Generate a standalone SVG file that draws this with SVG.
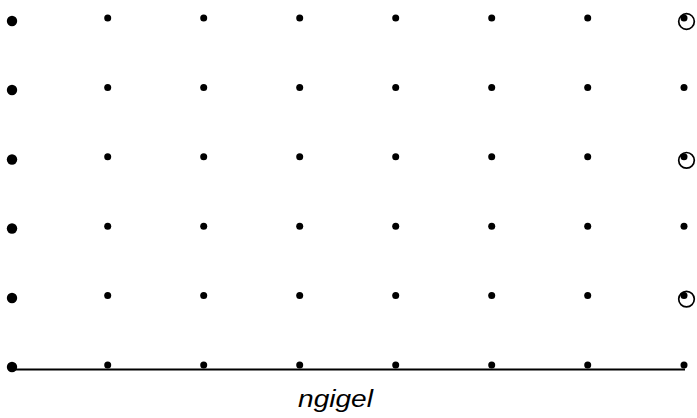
<svg xmlns="http://www.w3.org/2000/svg" width="697" height="418" viewBox="0 0 697 418">
<defs>
<style>
.d{fill:#000}
.big{fill:#000}
.ring{fill:none;stroke:#000;stroke-width:1.7}
.axis{stroke:#000;stroke-width:2;fill:none}
.lbl{font-family:"Liberation Sans",Arial,sans-serif;font-style:italic;font-size:23px;fill:#000}
</style>
<circle id="dot" class="d" r="3.5"/>
<circle id="bigdot" class="big" r="5.2"/>
</defs>
<rect width="697" height="418" fill="#fff"/>
<g id="connectors">
<path class="axis" d="M12 369.5 H685"/>
</g>
<g id="col0">
<use href="#bigdot" x="12" y="21"/>
<use href="#bigdot" x="12" y="90"/>
<use href="#bigdot" x="12" y="159.5"/>
<use href="#bigdot" x="12" y="228.5"/>
<use href="#bigdot" x="12" y="298"/>
<use href="#bigdot" x="12" y="367"/>
</g>
<g id="grid">
<g id="row0">
<use href="#dot" x="107.7" y="18"/><use href="#dot" x="203.7" y="18"/><use href="#dot" x="299.7" y="18"/><use href="#dot" x="395.7" y="18"/><use href="#dot" x="491.7" y="18"/><use href="#dot" x="587.7" y="18"/><use href="#dot" x="684" y="18"/>
</g>
<g id="row1">
<use href="#dot" x="107.7" y="87.4"/><use href="#dot" x="203.7" y="87.4"/><use href="#dot" x="299.7" y="87.4"/><use href="#dot" x="395.7" y="87.4"/><use href="#dot" x="491.7" y="87.4"/><use href="#dot" x="587.7" y="87.4"/><use href="#dot" x="684" y="87.4"/>
</g>
<g id="row2">
<use href="#dot" x="107.7" y="156.8"/><use href="#dot" x="203.7" y="156.8"/><use href="#dot" x="299.7" y="156.8"/><use href="#dot" x="395.7" y="156.8"/><use href="#dot" x="491.7" y="156.8"/><use href="#dot" x="587.7" y="156.8"/><use href="#dot" x="684" y="156.8"/>
</g>
<g id="row3">
<use href="#dot" x="107.7" y="226.2"/><use href="#dot" x="203.7" y="226.2"/><use href="#dot" x="299.7" y="226.2"/><use href="#dot" x="395.7" y="226.2"/><use href="#dot" x="491.7" y="226.2"/><use href="#dot" x="587.7" y="226.2"/><use href="#dot" x="684" y="226.2"/>
</g>
<g id="row4">
<use href="#dot" x="107.7" y="295.6"/><use href="#dot" x="203.7" y="295.6"/><use href="#dot" x="299.7" y="295.6"/><use href="#dot" x="395.7" y="295.6"/><use href="#dot" x="491.7" y="295.6"/><use href="#dot" x="587.7" y="295.6"/><use href="#dot" x="684" y="295.6"/>
</g>
<g id="row5">
<use href="#dot" x="107.7" y="365"/><use href="#dot" x="203.7" y="365"/><use href="#dot" x="299.7" y="365"/><use href="#dot" x="395.7" y="365"/><use href="#dot" x="491.7" y="365"/><use href="#dot" x="587.7" y="365"/><use href="#dot" x="684" y="365"/>
</g>
</g>
<g id="rings">
<circle class="ring" cx="686.5" cy="21.5" r="7.8"/>
<circle class="ring" cx="686.5" cy="160.3" r="7.8"/>
<circle class="ring" cx="686.5" cy="299.1" r="7.8"/>
</g>
<g id="label">
<text class="lbl" x="298" y="407" textLength="75" lengthAdjust="spacingAndGlyphs">ngigel</text>
</g>
</svg>
